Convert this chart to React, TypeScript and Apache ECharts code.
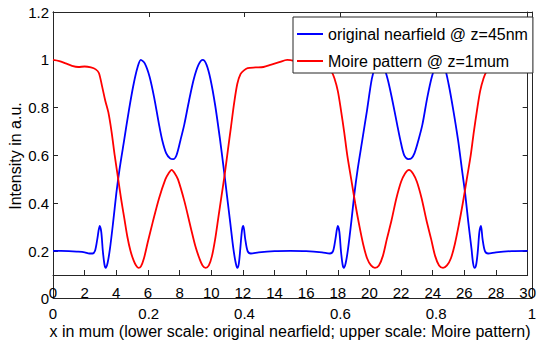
import React, { useEffect, useRef } from "react";
import * as echarts from "echarts";

// original nearfield @ z=45nm (blue), upper scale x in 0..30
const nearfieldX = [
  0, 0.5, 1.0, 1.5, 2.0, 2.3, 2.5, 2.65, 2.8, 2.95, 3.05, 3.15, 3.25, 3.33, 3.45, 3.6, 3.8, 4.0, 4.2, 4.5,
  4.8, 5.1, 5.35, 5.55, 5.8, 6.1, 6.4, 6.7, 6.9, 7.15, 7.4, 7.6, 7.8, 8.06, 8.3, 8.6, 8.9, 9.2, 9.47, 9.7,
  9.95, 10.25, 10.56, 10.8, 11.0, 11.2, 11.4, 11.55, 11.65, 11.75, 11.85, 11.95, 12.03, 12.15, 12.3, 12.5, 13.0, 14.0, 15.0, 16.0,
  17.0, 17.5, 17.7, 17.85, 18.0, 18.1, 18.2, 18.3, 18.38, 18.5, 18.65, 18.85, 19.05, 19.25, 19.55, 19.85, 20.15, 20.4, 20.6, 20.85,
  21.15, 21.45, 21.75, 21.95, 22.2, 22.45, 22.65, 22.85, 23.1, 23.35, 23.65, 23.95, 24.25, 24.5, 24.75, 25.0, 25.3, 25.6, 25.85, 26.05,
  26.25, 26.45, 26.55, 26.65, 26.75, 26.85, 26.95, 27.05, 27.15, 27.3, 27.5, 28.0, 29.0, 30.0,
];
const nearfieldY = [
  0.201, 0.201, 0.2, 0.198, 0.195, 0.19, 0.19, 0.2, 0.25, 0.305, 0.28, 0.2, 0.145, 0.13, 0.15, 0.21, 0.32, 0.44, 0.54, 0.665,
  0.79, 0.9, 0.97, 1.0, 0.985, 0.93, 0.84, 0.73, 0.665, 0.61, 0.588, 0.585, 0.6, 0.665, 0.73, 0.83, 0.92, 0.98, 1.0, 0.98,
  0.92, 0.81, 0.665, 0.54, 0.43, 0.32, 0.21, 0.15, 0.13, 0.15, 0.22, 0.29, 0.305, 0.25, 0.2, 0.19, 0.195, 0.2, 0.201, 0.2,
  0.195, 0.19, 0.2, 0.25, 0.305, 0.28, 0.2, 0.145, 0.13, 0.15, 0.21, 0.32, 0.44, 0.54, 0.665, 0.79, 0.92, 0.98, 1.0, 0.98,
  0.92, 0.83, 0.73, 0.665, 0.6, 0.585, 0.588, 0.61, 0.665, 0.73, 0.84, 0.93, 0.985, 1.0, 0.97, 0.9, 0.79, 0.665, 0.54, 0.44,
  0.32, 0.21, 0.15, 0.13, 0.145, 0.2, 0.28, 0.305, 0.25, 0.2, 0.19, 0.195, 0.2, 0.201,
];

// Moire pattern @ z=1mum (red)
const moireX = [
  0, 0.4, 0.8, 1.2, 1.6, 2.0, 2.4, 2.7, 2.9, 3.1, 3.3, 3.5, 3.7, 3.9, 4.1, 4.3, 4.5, 4.7, 4.9, 5.1,
  5.25, 5.4, 5.55, 5.75, 6.0, 6.3, 6.7, 7.1, 7.3, 7.5, 7.7, 7.9, 8.3, 8.7, 9.0, 9.25, 9.45, 9.65, 9.85, 10.05,
  10.25, 10.45, 10.65, 10.85, 11.05, 11.25, 11.45, 11.65, 11.85, 12.05, 12.3, 12.8, 13.3, 13.8, 14.3, 14.8, 15.3, 15.8, 16.3, 16.8,
  17.3, 17.6, 17.8, 18.0, 18.2, 18.4, 18.6, 18.85, 19.1, 19.35, 19.6, 19.85, 20.1, 20.35, 20.6, 20.85, 21.1, 21.4, 21.7, 22.0,
  22.25, 22.5, 22.75, 23.0, 23.3, 23.6, 23.9, 24.15, 24.4, 24.65, 24.9, 25.15, 25.4, 25.65, 25.9, 26.15, 26.4, 26.6, 26.8, 27.0,
  27.2, 27.4, 27.7, 28.2, 28.7, 29.2, 29.6, 30.0,
];
const moireY = [
  1.0, 0.995, 0.985, 0.975, 0.97, 0.972, 0.968, 0.96, 0.945, 0.89, 0.83, 0.78, 0.7, 0.6, 0.51, 0.42, 0.34, 0.26, 0.2, 0.16,
  0.14, 0.13, 0.135, 0.17, 0.24, 0.32, 0.42, 0.5, 0.525, 0.54, 0.525, 0.5, 0.41, 0.3, 0.22, 0.17, 0.14, 0.13, 0.14, 0.18,
  0.25, 0.34, 0.43, 0.52, 0.62, 0.72, 0.82, 0.9, 0.94, 0.955, 0.965, 0.968, 0.97, 0.98, 0.99, 1.0, 0.995, 0.985, 0.975, 0.968,
  0.962, 0.95, 0.92, 0.87, 0.79, 0.7, 0.6, 0.5, 0.4, 0.31, 0.23, 0.17, 0.14, 0.13, 0.14, 0.18, 0.25, 0.33, 0.42, 0.49,
  0.525, 0.54, 0.525, 0.49, 0.42, 0.33, 0.25, 0.18, 0.14, 0.13, 0.14, 0.17, 0.23, 0.31, 0.4, 0.5, 0.6, 0.7, 0.79, 0.87,
  0.92, 0.95, 0.962, 0.968, 0.972, 0.98, 0.99, 1.0,
];

const seriesNames = ["original nearfield @ z=45nm", "Moire pattern @ z=1mum"];
const yTickValues = [0.2, 0.4, 0.6, 0.8, 1, 1.2];
const lowerYTickValues = [0];
const yLabel = "Intensity in a.u.";
const xLabel = "x in mum (lower scale: original nearfield; upper scale: Moire pattern)";

export default function App() {
  const ref = useRef<HTMLDivElement>(null);
  useEffect(() => {
    if (!ref.current) return;
    const chart = echarts.init(ref.current, null, { renderer: "svg" });
    const font = "Liberation Sans";
    const axisColor = "#262626";
    const lineStyle = { color: axisColor, width: 1 };
    chart.setOption({
      animation: false,
      backgroundColor: "#ffffff",
      textStyle: { fontFamily: font },
      grid: [
        { left: 53, top: 12, width: 479, height: 263, show: false },
        { left: 53, top: 12, width: 479, height: 286, show: false },
      ],
      xAxis: [
        {
          type: "value", gridIndex: 0, min: 0, max: 30, interval: 2, position: "bottom",
          axisLine: { show: true, onZero: false, lineStyle },
          axisTick: { show: true, inside: true, length: 5, lineStyle },
          axisLabel: { show: true, margin: 10, fontSize: 15, color: "#000", fontFamily: font, showMinLabel: true, showMaxLabel: true },
          splitLine: { show: false },
        },
        {
          type: "value", gridIndex: 1, min: 0, max: 1, interval: 0.2, position: "bottom",
          axisLine: { show: true, onZero: false, lineStyle },
          axisTick: { show: false },
          axisLabel: { show: true, margin: 8, fontSize: 15, color: "#000", fontFamily: font },
          splitLine: { show: false },
        },
        {
          type: "value", gridIndex: 1, min: 0, max: 1, interval: 0.2, position: "top",
          axisLine: { show: true, onZero: false, lineStyle },
          axisTick: { show: true, inside: true, length: 5, lineStyle },
          axisLabel: { show: false },
          splitLine: { show: false },
        },
      ],
      yAxis: [
        {
          type: "value", gridIndex: 0, min: 0.1, max: 1.2, position: "left",
          axisLine: { show: true, onZero: false, lineStyle },
          axisTick: { show: true, inside: true, length: 5, lineStyle, customValues: yTickValues },
          axisLabel: { show: true, margin: 4, fontSize: 15, color: "#000", fontFamily: font, customValues: yTickValues },
          splitLine: { show: false },
        },
        {
          type: "value", gridIndex: 0, min: 0.1, max: 1.2, position: "right",
          axisLine: { show: true, onZero: false, lineStyle },
          axisTick: { show: true, inside: true, length: 5, lineStyle, customValues: yTickValues },
          axisLabel: { show: false },
          splitLine: { show: false },
        },
        {
          type: "value", gridIndex: 1, min: 0, max: 1, position: "left",
          axisLine: { show: true, onZero: false, lineStyle },
          axisTick: { show: false },
          axisLabel: { show: true, margin: 4, fontSize: 15, color: "#000", fontFamily: font, customValues: lowerYTickValues },
          splitLine: { show: false },
        },
        {
          type: "value", gridIndex: 1, min: 0, max: 1, position: "right",
          axisLine: { show: true, onZero: false, lineStyle },
          axisTick: { show: false },
          axisLabel: { show: false },
          splitLine: { show: false },
        },
      ],
      legend: {
        left: 293, top: 17, orient: "vertical",
        backgroundColor: "#ffffff", borderColor: axisColor, borderWidth: 1, borderRadius: 0,
        padding: [9, 5, 4, 4], itemGap: 11, itemWidth: 26, itemHeight: 2, icon: "rect",
        textStyle: { fontSize: 16, color: "#000", fontFamily: font },
        data: seriesNames,
      },
      graphic: [
        {
          type: "text", x: 15, y: 156, rotation: Math.PI / 2,
          style: { text: yLabel, fontSize: 16, fontFamily: font, fill: "#000", align: "center", verticalAlign: "middle", textAlign: "center", textVerticalAlign: "middle" },
        },
        {
          type: "text", x: 290, y: 331,
          style: { text: xLabel, fontSize: 16, fontFamily: font, fill: "#000", align: "center", verticalAlign: "middle", textAlign: "center", textVerticalAlign: "middle" },
        },
      ],
      series: [
        {
          name: seriesNames[0], type: "line", xAxisIndex: 0, yAxisIndex: 0,
          data: nearfieldX.map((x, i) => [x, nearfieldY[i]]),
          symbol: "none", smooth: 0.3, lineStyle: { color: "#0000ff", width: 1.8 }, itemStyle: { color: "#0000ff" },
        },
        {
          name: seriesNames[1], type: "line", xAxisIndex: 0, yAxisIndex: 0,
          data: moireX.map((x, i) => [x, moireY[i]]),
          symbol: "none", smooth: 0.3, lineStyle: { color: "#ff0000", width: 1.8 }, itemStyle: { color: "#ff0000" },
        },
      ],
    });
    return () => chart.dispose();
  }, []);
  return <div ref={ref} style={{ position: "fixed", left: 0, top: 0, width: 539, height: 345 }} />;
}
